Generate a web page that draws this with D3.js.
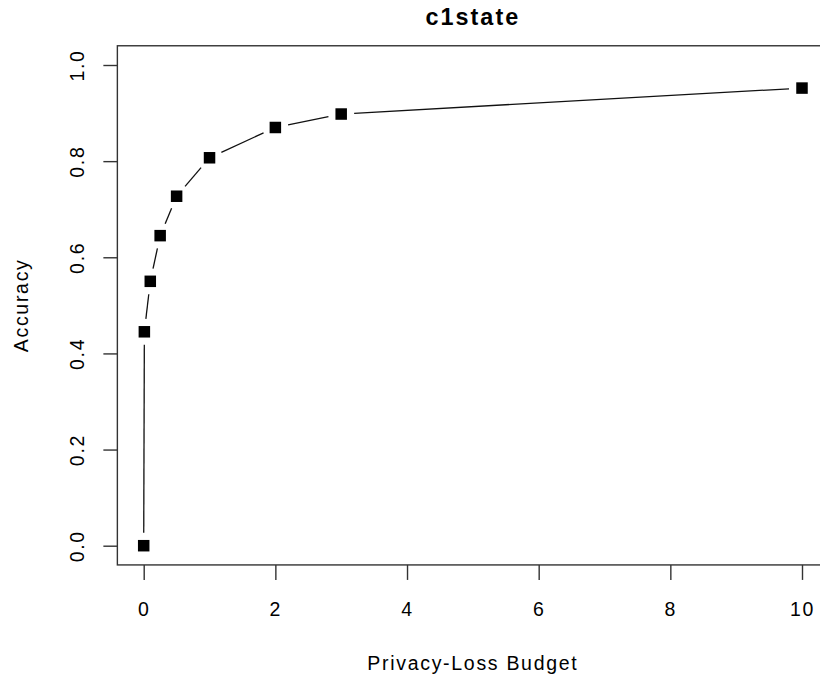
<!DOCTYPE html>
<html>
<head>
<meta charset="utf-8">
<script src="https://cdn.jsdelivr.net/npm/d3@7"></script>
<style>
  body { margin: 0; background: #fff; }
  svg { display: block; font-family: "Liberation Sans", Arial, Helvetica, sans-serif; }
</style>
</head>
<body>
<svg id="chart" width="820" height="681"></svg>
<script>
const budget = [0, 0.01, 0.1, 0.25, 0.5, 1, 2, 3, 10];
const accuracy = [0, 0.445, 0.55, 0.645, 0.727, 0.807, 0.87, 0.898, 0.952];
const xTicks = [0, 2, 4, 6, 8, 10];
const yTicks = [0, 0.2, 0.4, 0.6, 0.8, 1.0];
const chartTitle = "c1state";
const xTitle = "Privacy-Loss Budget";
const yTitle = "Accuracy";

const fontSize = 19.5, spacing = 1.7;

const svg = d3.select("#chart");

// R style: 4% padding on each side of the data range
var x = d3.scaleLinear().domain([0, 10]).range([143.7, 802]);
var y = d3.scaleLinear().domain([0, 1]).range([545.7, 65]);

const boxL = x(-0.4), boxR = x(10.4), boxT = y(1.04), boxB = y(-0.04);

svg.append("rect")
  .attr("x", boxL)
  .attr("y", boxT)
  .attr("width", boxR - boxL)
  .attr("height", boxB - boxT)
  .attr("fill", "none")
  .attr("stroke", "#333")
  .attr("stroke-width", 1.4);

var xAxis = svg.append("g")
  .attr("transform", "translate(0," + boxB + ")")
  .call(d3.axisBottom(x).tickValues(xTicks).tickSize(15).tickSizeOuter(0).tickFormat(d3.format("d")));
xAxis.select(".domain").remove();
xAxis.selectAll("line").attr("stroke", "#333").attr("stroke-width", 1.4);
xAxis.selectAll("text")
  .attr("dy", null)
  .attr("y", 51)
  .attr("fill", "#000")
  .style("font-size", fontSize + "px")
  .style("letter-spacing", spacing + "px")
  .attr("font-family", null);

var yAxis = svg.append("g")
  .attr("transform", "translate(" + boxL + ",0)")
  .call(d3.axisLeft(y).tickValues(yTicks).tickSize(14).tickSizeOuter(0).tickFormat(d3.format(".1f")));
yAxis.select(".domain").remove();
yAxis.selectAll("line").attr("stroke", "#333").attr("stroke-width", 1.4);
yAxis.selectAll("text")
  .attr("dy", null)
  .attr("x", 0)
  .attr("y", -33.5)
  .attr("transform", "rotate(-90)")
  .attr("text-anchor", "middle")
  .attr("fill", "#000")
  .style("font-size", fontSize + "px")
  .style("letter-spacing", spacing + "px")
  .attr("font-family", null);

// type = "b": segments with a gap around each point
const gap = 13;
const pts = budget.map((b, i) => [x(b), y(accuracy[i])]);
const segs = [];
for (let i = 0; i < pts.length - 1; i++) {
  const [x0, y0] = pts[i], [x1, y1] = pts[i + 1];
  const len = Math.hypot(x1 - x0, y1 - y0);
  if (len <= 2 * gap) continue;
  const ux = (x1 - x0) / len, uy = (y1 - y0) / len;
  segs.push([x0 + ux * gap, y0 + uy * gap, x1 - ux * gap, y1 - uy * gap]);
}

svg.append("g")
  .selectAll("line")
  .data(segs)
  .enter()
  .append("line")
    .attr("x1", d => d[0])
    .attr("y1", d => d[1])
    .attr("x2", d => d[2])
    .attr("y2", d => d[3])
    .attr("stroke", "#111")
    .attr("stroke-width", 1.3);

const size = 11.5;
svg.append("g")
  .selectAll("rect")
  .data(budget)
  .enter()
  .append("rect")
    .attr("x", (d) => x(d) - size / 2)
    .attr("y", (d, i) => y(accuracy[i]) - size / 2)
    .attr("width", size)
    .attr("height", size)
    .attr("fill", "#000");

const cx = (boxL + boxR) / 2, cy = (boxT + boxB) / 2;

svg.append("text")
  .attr("x", cx)
  .attr("y", 25)
  .attr("text-anchor", "middle")
  .style("font-size", (fontSize * 1.2) + "px")
  .style("font-weight", "bold")
  .style("letter-spacing", (spacing * 1.2) + "px")
  .text(chartTitle);

svg.append("text")
  .attr("x", cx)
  .attr("y", 670)
  .attr("text-anchor", "middle")
  .style("font-size", fontSize + "px")
  .style("letter-spacing", spacing + "px")
  .text(xTitle);

svg.append("text")
  .attr("transform", "translate(28," + cy + ") rotate(-90)")
  .attr("text-anchor", "middle")
  .style("font-size", fontSize + "px")
  .style("letter-spacing", spacing + "px")
  .text(yTitle);
</script>
</body>
</html>
